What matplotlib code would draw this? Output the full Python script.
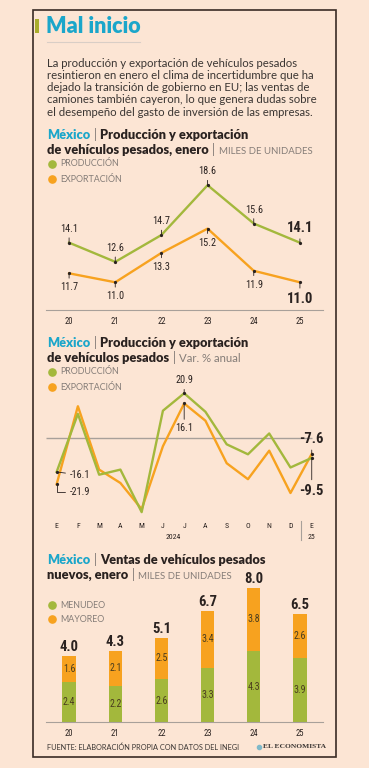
import matplotlib
matplotlib.use('Agg')
import matplotlib.pyplot as plt
from matplotlib.lines import Line2D
from matplotlib.patches import Rectangle

W, H = 369, 768

BG = '#fce5d4'
GREEN = '#a3b83c'
ORANGE = '#f7a21f'
CYAN = '#1ba6ca'
DARK = '#2a2220'
GRAY = '#857d78'
LINE = '#a8a09a'
BARTXT = '#4b3d1e'

SANS = ['Lato', 'DejaVu Sans']
NARROW = ['Liberation Sans Narrow', 'Roboto Condensed', 'DejaVu Sans']

# chart 1: produccion / exportacion, enero (miles de unidades)
years = ['20', '21', '22', '23', '24', '25']
year_pos = [20, 21, 22, 23, 24, 25]
produccion = [14.1, 12.6, 14.7, 18.6, 15.6, 14.1]
exportacion = [11.7, 11.0, 13.3, 15.2, 11.9, 11.0]

# chart 2: var. % anual, ene-2024 .. ene-2025
meses = ['E', 'F', 'M', 'A', 'M', 'J', 'J', 'A', 'S', 'O', 'N', 'D', 'E']
var_prod = [-16.1, 11.2, -17.4, -15.0, -35.0, 12.7, 20.9, 12.2, -3.1, -7.8, 2.0, -14.0, -9.5]
var_exp = [-21.9, 14.8, -15.0, -21.3, -33.6, -4.0, 16.1, 8.0, -12.0, -19.5, -6.1, -26.0, -7.6]

# chart 3: ventas, enero (miles de unidades)
menudeo = [2.4, 2.2, 2.6, 3.3, 4.3, 3.9]
mayoreo = [1.6, 2.1, 2.5, 3.4, 3.8, 2.6]
totales = [4.0, 4.3, 5.1, 6.7, 8.0, 6.5]

intro = [
    'La producción y exportación de vehículos pesados',
    'resintieron en enero el clima de incertidumbre que ha',
    'dejado la transición de gobierno en EU; las ventas de',
    'camiones también cayeron, lo que genera dudas sobre',
    'el desempeño del gasto de inversión de las empresas.',
]

fig = plt.figure(figsize=(W / 100, H / 100), dpi=100)
fig.patch.set_facecolor(BG)
renderer = fig.canvas.get_renderer()


def fx(x):
    return x / W


def fy(y):
    return 1 - y / H


def axes_px(left, top, right, bottom):
    ax = fig.add_axes([fx(left), fy(bottom), (right - left) / W, (bottom - top) / H])
    ax.set_facecolor('none')
    for s in ax.spines.values():
        s.set_visible(False)
    return ax


def rich(x, y, parts, gap=3.5):
    for s, kw in parts:
        t = fig.text(fx(x), fy(y), s, va='baseline', **kw)
        x += t.get_window_extent(renderer).width + gap


def legend_item(x, y, color, label):
    fig.add_artist(Line2D([fx(x)], [fy(y)], marker='o', ms=5.2, color=color,
                          transform=fig.transFigure))
    fig.text(fx(x + 8), fy(y), label, va='center', fontsize=6.4, color=GRAY,
             family=SANS)


def header(y1, y2, line1, line2, unit, unit_upper=True):
    bold = dict(fontsize=9.2, fontweight='heavy', family=SANS, color=DARK)
    bar = dict(fontsize=9.2, fontweight='normal', family=SANS, color=GRAY)
    rich(47, y1, [('México', dict(bold, color=CYAN)), ('|', bar), (line1, bold)])
    rich(47, y2, [(line2, bold), ('|', bar),
                  (unit, dict(fontsize=6.9 if unit_upper else 8.2, fontweight='normal',
                              family=SANS, color=GRAY))])


# frame
fig.add_artist(Rectangle((fx(33), fy(757)), (336 - 33) / W, (757 - 10) / H,
                         transform=fig.transFigure, fill=False, ec='#3a2c25', lw=1.2))

# title and intro
fig.add_artist(Rectangle((fx(34.5), fy(33)), 4.5 / W, 14 / H, transform=fig.transFigure,
                         color='#a9ad2c', lw=0))
fig.text(fx(46), fy(33), 'Mal inicio', fontsize=15.5, fontweight='heavy', color=CYAN,
         family=SANS, va='baseline')
fig.add_artist(Line2D([fx(47), fx(140)], [fy(41.5), fy(41.5)], color='#d9cec6', lw=0.8,
                      transform=fig.transFigure))
for i, line in enumerate(intro):
    fig.text(fx(47), fy(66.7 + 12.25 * i), line, fontsize=8.2, color='#3b3633',
             family=SANS, va='baseline')

# ---------------- chart 1 ----------------
header(139, 153.5, 'Producción y exportación', 'de vehículos pesados, enero',
       'MILES DE UNIDADES')
legend_item(52, 164, GREEN, 'PRODUCCIÓN')
legend_item(52, 179, ORANGE, 'EXPORTACIÓN')

ax1 = axes_px(46, 159, 323, 310)
ax1.set_xlim(19.5, 25.5)
ax1.set_ylim(8.83, 20.65)
ax1.plot(year_pos, produccion, color=GREEN, lw=1.7, zorder=3)
ax1.plot(year_pos, exportacion, color=ORANGE, lw=1.7, zorder=3)
ax1.plot(year_pos, produccion, 'o', color=DARK, ms=1.3, zorder=4)
ax1.plot(year_pos, exportacion, 'o', color=DARK, ms=1.3, zorder=4)
ax1.spines['bottom'].set_visible(True)
ax1.spines['bottom'].set_color(LINE)
ax1.set_xticks(year_pos, years)
ax1.set_yticks([])
ax1.tick_params(axis='x', length=0, pad=5, labelsize=6.2, labelcolor=DARK)
for lab in ax1.get_xticklabels():
    lab.set_family(NARROW)
arrow = dict(arrowstyle='-', lw=0.6, color=DARK, shrinkA=1, shrinkB=0)
for i, (x, v) in enumerate(zip(year_pos, produccion)):
    last = i == len(produccion) - 1
    ax1.annotate(f'{v:.1f}', (x, v), xytext=(0, 14 if not last else 15),
                 textcoords='offset pixels', ha='center', va='center',
                 fontsize=10.5 if last else 7.4, fontweight='bold' if last else 'normal',
                 family=NARROW, color=DARK, arrowprops=arrow)
for i, (x, v) in enumerate(zip(year_pos, exportacion)):
    last = i == len(exportacion) - 1
    ax1.annotate(f'{v:.1f}', (x, v), xytext=(0, -14 if not last else -17),
                 textcoords='offset pixels', ha='center', va='center',
                 fontsize=10.5 if last else 7.4, fontweight='bold' if last else 'normal',
                 family=NARROW, color=DARK, arrowprops=arrow)

# ---------------- chart 2 ----------------
header(347.3, 361.7, 'Producción y exportación', 'de vehículos pesados',
       'Var. % anual', unit_upper=False)
legend_item(52, 372, GREEN, 'PRODUCCIÓN')
legend_item(52, 387, ORANGE, 'EXPORTACIÓN')

ax2 = axes_px(46, 365, 323, 520)
idx = list(range(len(meses)))
ax2.set_xlim(-0.5, 12.53)
ax2.set_ylim(-38.7, 34.2)
ax2.hlines(0, -0.5, idx[-1], color=LINE, lw=1, zorder=1)
ax2.plot(idx, var_exp, color=ORANGE, lw=1.7, zorder=3)
ax2.plot(idx, var_prod, color=GREEN, lw=1.7, zorder=3)
ax2.set_xticks(idx, meses)
ax2.set_yticks([])
ax2.tick_params(axis='x', length=0, pad=2, labelsize=5.6, labelcolor=DARK)
for lab in ax2.get_xticklabels():
    lab.set_family(NARROW)
ax2.axvline(idx[-1] - 0.5, ymin=-0.13, ymax=-0.005, color=LINE, lw=0.8, clip_on=False)
ax2.annotate('2024', xy=(5.5, 0), xycoords=('data', 'axes fraction'), xytext=(0, -17),
             textcoords='offset pixels', ha='center', va='center', fontsize=5.6,
             family=NARROW, color=DARK)
ax2.annotate('25', xy=(idx[-1], 0), xycoords=('data', 'axes fraction'), xytext=(0, -17),
             textcoords='offset pixels', ha='center', va='center', fontsize=5.6,
             family=NARROW, color=DARK)
peak = var_prod.index(max(var_prod))
ax2.annotate(f'{var_prod[peak]:.1f}', (peak, var_prod[peak]), xytext=(0, 13),
             textcoords='offset pixels', ha='center', va='center', fontsize=7.4,
             family=NARROW, color=DARK, arrowprops=arrow)
ax2.annotate(f'{var_exp[peak]:.1f}', (peak, var_exp[peak]), xytext=(0, -25),
             textcoords='offset pixels', ha='center', va='center', fontsize=7.4,
             family=NARROW, color=DARK, arrowprops=arrow)
ax2.annotate(f'{var_prod[0]:.1f}', (0, var_prod[0]), xytext=(13, -3),
             textcoords='offset pixels', ha='left', va='center', fontsize=7.4,
             family=NARROW, color=DARK, arrowprops=arrow)
ax2.annotate(f'{var_exp[0]:.1f}', (0, var_exp[0]), xytext=(13, -8),
             textcoords='offset pixels', ha='left', va='center', fontsize=7.4,
             family=NARROW, color=DARK,
             arrowprops=dict(arrow, connectionstyle='angle,angleA=180,angleB=90,rad=0'))
ax2.annotate(f'{var_exp[-1]:.1f}', (idx[-1], var_exp[-1]), xytext=(0, 15),
             textcoords='offset pixels', ha='center', va='center', fontsize=10.5,
             fontweight='bold', family=NARROW, color=DARK, arrowprops=arrow)
ax2.annotate(f'{var_prod[-1]:.1f}', (idx[-1], var_prod[-1]), xytext=(0, -33),
             textcoords='offset pixels', ha='center', va='center', fontsize=10.5,
             fontweight='bold', family=NARROW, color=DARK, arrowprops=arrow)
ax2.plot([idx[0], idx[0], peak, peak, idx[-1], idx[-1]],
         [var_prod[0], var_exp[0], var_prod[peak], var_exp[peak], var_prod[-1], var_exp[-1]],
         'o', color=DARK, ms=1.3, zorder=4)

# ---------------- chart 3 ----------------
header(564, 579, 'Ventas de vehículos pesados', 'nuevos, enero', 'MILES DE UNIDADES')
legend_item(52, 605, GREEN, 'MENUDEO')
legend_item(52, 619, ORANGE, 'MAYOREO')

ax3 = axes_px(46, 580, 323, 722.3)
ax3.set_xlim(19.5, 25.5)
ax3.set_ylim(0, 8.57)
bw = 0.29
ax3.bar(year_pos, menudeo, width=bw, color=GREEN, zorder=2)
ax3.bar(year_pos, mayoreo, width=bw, bottom=menudeo, color=ORANGE, zorder=2)
for x, m, y, t in zip(year_pos, menudeo, mayoreo, totales):
    ax3.text(x, m / 2, f'{m:.1f}', ha='center', va='center', fontsize=7.2,
             family=NARROW, color=BARTXT, zorder=3)
    ax3.text(x, m + y / 2, f'{y:.1f}', ha='center', va='center', fontsize=7.2,
             family=NARROW, color=BARTXT, zorder=3)
    ax3.annotate(f'{t:.1f}', (x, m + y), xytext=(0, 2), textcoords='offset pixels',
                 ha='center', va='bottom', fontsize=10.5, fontweight='bold',
                 family=NARROW, color=DARK, annotation_clip=False)
ax3.spines['bottom'].set_visible(True)
ax3.spines['bottom'].set_color(LINE)
ax3.set_xticks(year_pos, years)
ax3.set_yticks([])
ax3.tick_params(axis='x', length=0, pad=5, labelsize=6.2, labelcolor=DARK)
for lab in ax3.get_xticklabels():
    lab.set_family(NARROW)

# footer
fig.text(fx(47), fy(747), 'FUENTE: ELABORACIÓN PROPIA CON DATOS DEL INEGI', fontsize=5.3,
         color='#3b3633', family=SANS, va='center')
fig.add_artist(Line2D([fx(259)], [fy(747)], marker='o', ms=3, color='#7fb9c9',
                      transform=fig.transFigure))
fig.text(fx(263), fy(747), 'EL ECONOMISTA', fontsize=5.4, fontweight='bold', color='#3b3633',
         family=['Liberation Serif', 'DejaVu Serif'], va='center')

fig.savefig('out.png', dpi=100, facecolor=BG)
